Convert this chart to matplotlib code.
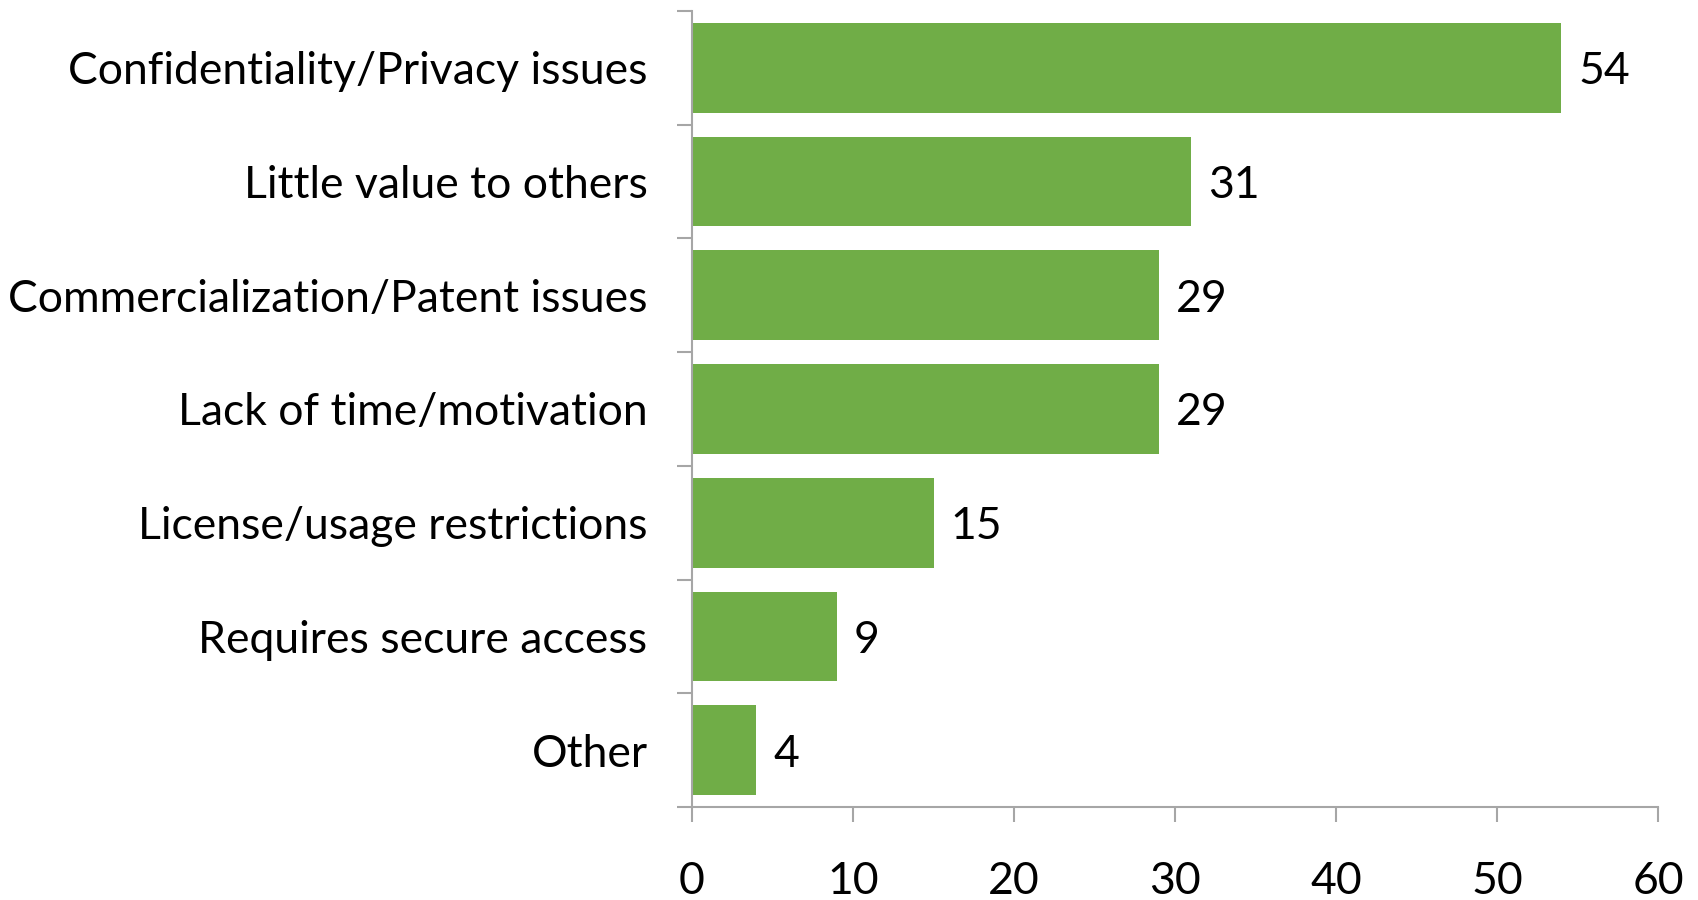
import matplotlib
matplotlib.use("Agg")
import matplotlib.pyplot as plt

categories = ["Confidentiality/Privacy issues", "Little value to others",
              "Commercialization/Patent issues", "Lack of time/motivation",
              "License/usage restrictions", "Requires secure access", "Other"]
values = [54, 31, 29, 29, 15, 9, 4]
xticks = [0, 10, 20, 30, 40, 50, 60]

plt.rcParams['font.family'] = ['Lato', 'DejaVu Sans']
W, H = 1698, 900
fig = plt.figure(figsize=(W/100, H/100), dpi=100)
left, right, top, bottom = 692, 1658, 11, 807
ax = fig.add_axes([left/W, 1-bottom/H, (right-left)/W, (bottom-top)/H])

n = len(categories)
ypos = list(range(n))
ax.barh(ypos, values, height=0.79, color='#70AD47')
ax.set_ylim(n-0.5, -0.5)
ax.set_xlim(0, 60)
ax.set_xticks(xticks)
ax.set_xticklabels([str(t) for t in xticks])
ax.set_yticks([i - 0.5 for i in range(n+1)], minor=False)
ax.set_yticklabels([])
ax.set_yticks(ypos, minor=True)
ax.set_yticklabels(categories, minor=True)
ax.tick_params(axis='y', which='major', length=11, width=1.5, color='#A6A6A6', direction='out')
ax.tick_params(axis='y', which='minor', length=0, pad=32, labelsize=32)
ax.tick_params(axis='x', length=11, width=1.5, color='#A6A6A6', pad=28, labelsize=32)
for s in ['top', 'right']:
    ax.spines[s].set_visible(False)
for s in ['left', 'bottom']:
    ax.spines[s].set_color('#A6A6A6')
    ax.spines[s].set_linewidth(1.5)

for y, v in zip(ypos, values):
    ax.annotate(str(v), (v, y), xytext=(12, 0), textcoords='offset points',
                va='center_baseline', ha='left', fontsize=32)

fig.savefig('out.png', dpi=100)
